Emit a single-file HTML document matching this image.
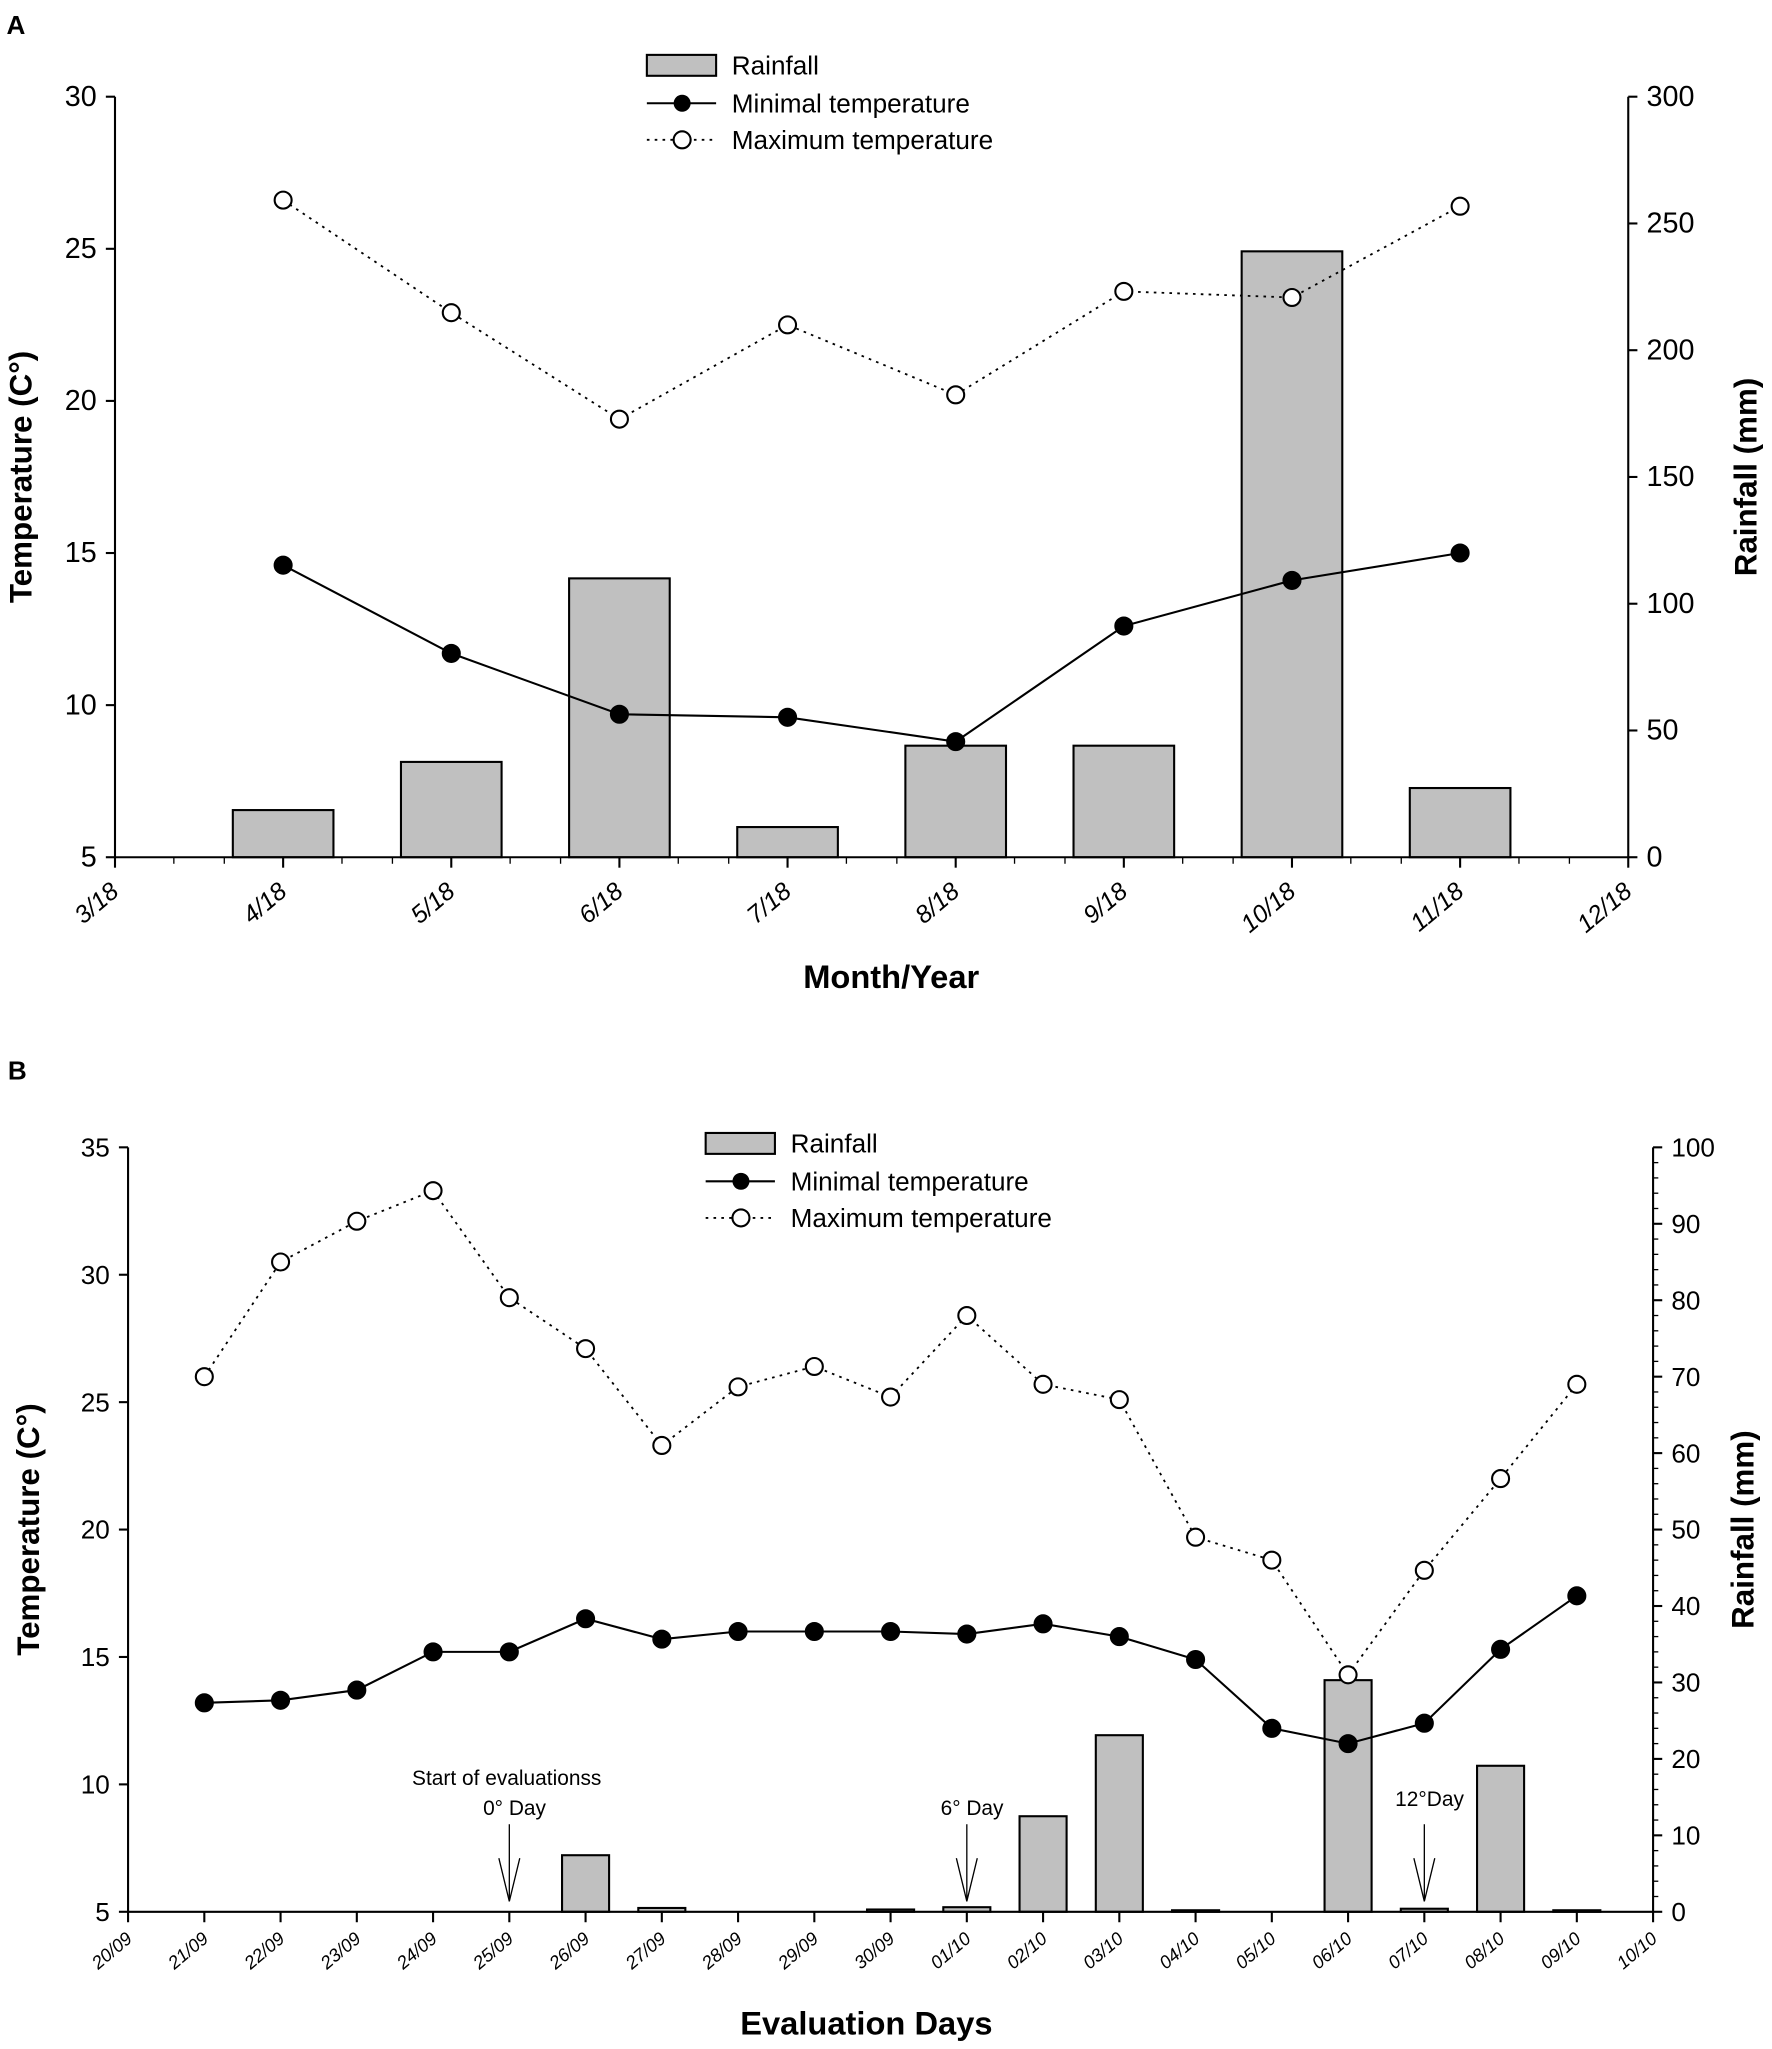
<!DOCTYPE html>
<html><head><meta charset="utf-8"><style>
html,body{margin:0;padding:0;background:#fff}
svg{display:block}
text{font-family:"Liberation Sans",Arial,sans-serif;fill:#000}
</style></head><body>
<svg id="fig" width="1772" height="2049" viewBox="0 0 1356 1568" preserveAspectRatio="none" xmlns="http://www.w3.org/2000/svg"></svg>
<script>
// ---- Panel A data ----
const monthsA = ["3/18","4/18","5/18","6/18","7/18","8/18","9/18","10/18","11/18","12/18"];
const rainA = [null,18.6,37.6,110,11.9,44,44,239,27.3,null];
const minA = [null,14.6,11.7,9.7,9.6,8.8,12.6,14.1,15.0,null];
const maxA = [null,26.6,22.9,19.4,22.5,20.2,23.6,23.4,26.4,null];
const tempTicksA = [5,10,15,20,25,30];
const rainTicksA = [0,50,100,150,200,250,300];
// ---- Panel B data ----
const daysB = ["20/09","21/09","22/09","23/09","24/09","25/09","26/09","27/09","28/09","29/09","30/09","01/10","02/10","03/10","04/10","05/10","06/10","07/10","08/10","09/10","10/10"];
const rainB = [null,0,0,0,0,0,7.4,0.5,0,0,0.3,0.6,12.5,23.1,0.2,0,30.3,0.4,19.1,0.2,null];
const minB = [null,13.2,13.3,13.7,15.2,15.2,16.5,15.7,16.0,16.0,16.0,15.9,16.3,15.8,14.9,12.2,11.6,12.4,15.3,17.4,null];
const maxB = [null,26.0,30.5,32.1,33.3,29.1,27.1,23.3,25.6,26.4,25.2,28.4,25.7,25.1,19.7,18.8,14.3,18.4,22.0,25.7,null];
const tempTicksB = [5,10,15,20,25,30,35];
const rainTicksB = [0,10,20,30,40,50,60,70,80,90,100];

const NS="http://www.w3.org/2000/svg";
const svg=document.getElementById('fig');
function mk(tag,attrs,parent,txt){const e=document.createElementNS(NS,tag);for(const k in attrs)e.setAttribute(k,attrs[k]);if(txt!==undefined)e.textContent=txt;(parent||svg).appendChild(e);return e;}

function panel(cfg){
  const g=mk('g',{});
  
  
  const {L,R,T,B}=cfg;
  const n=cfg.cats.length-1;
  const xs=i=>L+(R-L)*i/n;
  const yT=v=>B-(v-cfg.tMin)/(cfg.tMax-cfg.tMin)*(B-T);
  const yR=v=>B-(v-cfg.rMin)/(cfg.rMax-cfg.rMin)*(B-T);
  // bars
  cfg.rain.forEach((v,i)=>{ if(v===null||v<=0) return;
    const r=mk('rect',{x:xs(i)-cfg.bw/2,y:yR(v),width:cfg.bw,height:B-yR(v),fill:'#c0c0c0',stroke:'#000','stroke-width':1.6},g);
    
    
  });
  // axes
  mk('line',{x1:L,y1:T,x2:L,y2:B,stroke:'#000','stroke-width':1.6},g);
  mk('line',{x1:R,y1:T,x2:R,y2:B,stroke:'#000','stroke-width':1.6},g);
  mk('line',{x1:L,y1:B,x2:R,y2:B,stroke:'#000','stroke-width':1.6},g);
  cfg.tTicks.forEach(v=>{const y=yT(v);mk('line',{x1:L-7,y1:y,x2:L,y2:y,stroke:'#000','stroke-width':1.6},g);
    const t=mk('text',{x:L-14,y:y+7,'text-anchor':'end','font-size':cfg.fs},g,v);
    });
  cfg.rTicks.forEach(v=>{const y=yR(v);mk('line',{x1:R,y1:y,x2:R+7,y2:y,stroke:'#000','stroke-width':1.6},g);
    const t=mk('text',{x:R+14,y:y+7,'text-anchor':'start','font-size':cfg.fs},g,v);
    });
  if(cfg.rMinor){for(let v=cfg.rMin;v<=cfg.rMax;v+=cfg.rMinor){const y=yR(v);mk('line',{x1:R,y1:y,x2:R+4,y2:y,stroke:'#000','stroke-width':1},g);}}
  cfg.cats.forEach((c,i)=>{const x=xs(i);mk('line',{x1:x,y1:B,x2:x,y2:B+8,stroke:'#000','stroke-width':1.6},g);
    if(cfg.minorOff){[-cfg.minorOff,cfg.minorOff].forEach(o=>{const xm=x+o*(R-L)/n;if(xm>L&&xm<R)mk('line',{x1:xm,y1:B,x2:xm,y2:B+5,stroke:'#000','stroke-width':1},g);});}
    const t=mk('text',{x:x+4,y:B+cfg.labOff,'text-anchor':'end','font-size':cfg.xfs,'font-style':'italic',transform:`rotate(-40 ${x+4} ${B+cfg.labOff})`},g,c);
    });
  // lines
  function series(vals,dash,fill,nm){
    const pts=[];vals.forEach((v,i)=>{if(v!==null)pts.push([xs(i),yT(v)]);});
    const p=mk('polyline',{points:pts.map(p=>p.join(',')).join(' '),fill:'none',stroke:'#000','stroke-width':dash?1.4:1.6,'stroke-dasharray':dash?'2,4':'none'},g);
    
    pts.forEach(q=>{const c=mk('circle',{cx:q[0],cy:q[1],r:cfg.mr,fill:fill,stroke:'#000','stroke-width':1.6},g);
      });
  }
  series(cfg.maxv,true,'#fff','max-temp');
  series(cfg.minv,false,'#000','min-temp');
  // legend
  const lg=mk('g',{},g);
  const lx=cfg.lx,ly=cfg.ly;
  mk('rect',{x:lx,y:ly-8,width:53,height:16,fill:'#c0c0c0',stroke:'#000','stroke-width':1.6},lg);
  mk('text',{x:lx+65,y:ly+7,'font-size':cfg.lfs},lg,'Rainfall');
  mk('line',{x1:lx,y1:ly+29,x2:lx+53,y2:ly+29,stroke:'#000','stroke-width':1.6},lg);
  mk('circle',{cx:lx+27,cy:ly+29,r:cfg.mr,fill:'#000'},lg);
  mk('text',{x:lx+65,y:ly+36,'font-size':cfg.lfs},lg,'Minimal temperature');
  mk('line',{x1:lx,y1:ly+57,x2:lx+53,y2:ly+57,stroke:'#000','stroke-width':1.4,'stroke-dasharray':'2,4'},lg);
  mk('circle',{cx:lx+27,cy:ly+57,r:cfg.mr,fill:'#fff',stroke:'#000','stroke-width':1.6},lg);
  mk('text',{x:lx+65,y:ly+64,'font-size':cfg.lfs},lg,'Maximum temperature');
  // titles
  let t=mk('text',{x:cfg.ytx,y:(T+B)/2,'text-anchor':'middle','font-size':24,'font-weight':'bold',transform:`rotate(-90 ${cfg.ytx} ${(T+B)/2})`},g,'Temperature (C°)');
  
  t=mk('text',{x:cfg.rtx,y:(T+B)/2,'text-anchor':'middle','font-size':24,'font-weight':'bold',transform:`rotate(-90 ${cfg.rtx} ${(T+B)/2})`},g,'Rainfall (mm)');
  
  t=mk('text',{x:cfg.xtx,y:cfg.xty,'text-anchor':'middle','font-size':25,'font-weight':'bold'},g,cfg.xtitle);
  
  t=mk('text',{x:cfg.px,y:cfg.py,'font-size':20,'font-weight':'bold'},g,cfg.plabel);
  
  return {g,xs,B};
}

panel({name:'panel-a',cats:monthsA,rain:rainA,minv:minA,maxv:maxA,tTicks:tempTicksA,rTicks:rainTicksA,
  L:88,R:1246,T:74,B:656,tMin:5,tMax:30,rMin:0,rMax:300,bw:77,mr:6.5,fs:22,xfs:19,labOff:28,minorOff:0.35,
  lx:495,ly:50,lfs:20,ytx:24,rtx:1344,xtx:682,xty:756,xtitle:'Month/Year',plabel:'A',px:5,py:26});

const pb=panel({name:'panel-b',cats:daysB,rain:rainB,minv:minB,maxv:maxB,tTicks:tempTicksB,rTicks:rainTicksB,rMinor:2,
  L:98,R:1265,T:878,B:1463,tMin:5,tMax:35,rMin:0,rMax:100,bw:36,mr:6.5,fs:20,xfs:14,labOff:22,
  lx:540,ly:875,lfs:20,ytx:30,rtx:1342,xtx:663,xty:1557,xtitle:'Evaluation Days',plabel:'B',px:6,py:826});

// annotations
const ann=[["Start of evaluationss","0° Day",5],[null,"6° Day",11],[null,"12°Day",17]];
ann.forEach(a=>{
  const x=pb.xs(a[2]);
  const g=mk('g',{});
  
  
  if(a[0]) mk('text',{x:x-2,y:1366,'text-anchor':'middle','font-size':16,fill:'#333'},g,a[0]);
  mk('text',{x:x+4,y:(a[2]===17?1382:1389),'text-anchor':'middle','font-size':16,fill:'#333'},g,a[1]);
  mk('line',{x1:x,y1:1396,x2:x,y2:1455,stroke:'#000','stroke-width':1},g);
  mk('polyline',{points:`${x-8},1422 ${x},1455 ${x+8},1422`,fill:'none',stroke:'#000','stroke-width':1},g);
});
</script>
</body></html>
